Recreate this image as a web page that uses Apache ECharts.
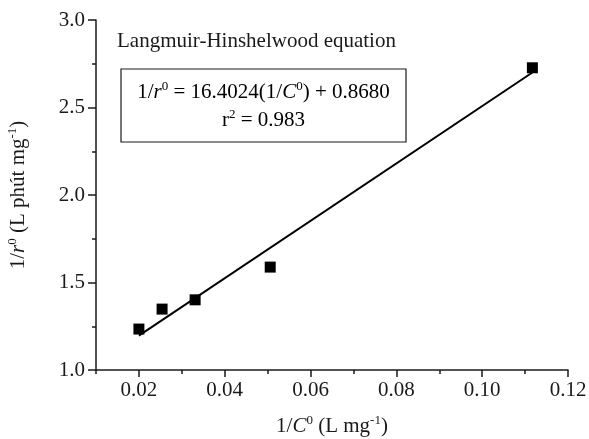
<!DOCTYPE html>
<html>
<head>
<meta charset="utf-8">
<script src="https://cdn.jsdelivr.net/npm/echarts@6/dist/echarts.min.js"></script>
<style>html,body{margin:0;padding:0;background:#fff}#c{width:589px;height:439px}</style>
</head>
<body>
<div id="c"></div>
<script>
// Data
const invC0 = [0.0200, 0.0254, 0.0331, 0.0506, 0.1117];
const invR0 = [1.234, 1.348, 1.401, 1.588, 2.727];
const fitSlope = 16.4024;
const fitIntercept = 0.8680;
const fitRange = [0.0200, 0.1117];
const xMajorTicks = [0.02, 0.04, 0.06, 0.08, 0.10, 0.12];
const xMinorTicks = [0.01, 0.03, 0.05, 0.07, 0.09, 0.11];
const yTicks = [1.0, 1.5, 2.0, 2.5, 3.0];

const FONT = '"Liberation Serif", "DejaVu Serif", serif';
const INK = '#1a1a1a';

const scatterData = invC0.map((x, i) => [x, invR0[i]]);
const fitData = fitRange.map(x => [x, fitSlope * x + fitIntercept]);

const supStyle = { fontFamily: FONT, fontSize: 13, color: INK, verticalAlign: 'top', lineHeight: 13 };
const nStyle = { fontFamily: FONT, fontSize: 21, color: INK, lineHeight: 24 };
const iStyle = { fontFamily: FONT, fontSize: 21, color: INK, fontStyle: 'italic', lineHeight: 24 };
const rich = { n: nStyle, i: iStyle, s: supStyle };

const chart = echarts.init(document.getElementById('c'), null, { renderer: 'canvas' });
chart.setOption({
  animation: false,
  backgroundColor: '#fff',
  grid: { left: 96, right: 21, top: 20, bottom: 69, containLabel: false, outerBoundsMode: 'none' },
  xAxis: [{
    type: 'value', min: 0.01, max: 0.12,
    splitLine: { show: false },
    axisLine: { show: true, onZero: false, lineStyle: { color: INK, width: 1.5 } },
    axisTick: { show: true, inside: false, length: 7, lineStyle: { color: INK, width: 1.5 }, customValues: xMajorTicks },
    axisLabel: { customValues: xMajorTicks, margin: 10, fontFamily: FONT, fontSize: 21, color: INK,
      formatter: v => v.toFixed(2) },
    name: '{n|1/}{i|C}{s|0}{n| (L mg}{s|-1}{n|)}',
    nameLocation: 'middle', nameGap: 44,
    nameTextStyle: { rich: rich }
  }, {
    type: 'value', min: 0.01, max: 0.12, position: 'bottom',
    splitLine: { show: false },
    axisLine: { show: false },
    axisTick: { show: true, length: 4, lineStyle: { color: INK, width: 1.5 }, customValues: xMinorTicks },
    axisLabel: { show: false }
  }],
  yAxis: {
    type: 'value', min: 1.0, max: 3.0, interval: 0.5,
    splitLine: { show: false },
    axisLine: { show: true, onZero: false, lineStyle: { color: INK, width: 1.5 } },
    axisTick: { show: true, length: 8, lineStyle: { color: INK, width: 1.5 } },
    minorTick: { show: true, splitNumber: 2, length: 4, lineStyle: { color: INK, width: 1.5 } },
    axisLabel: { margin: 11, fontFamily: FONT, fontSize: 21, color: INK,
      formatter: v => v.toFixed(1) },
    name: '{n|1/}{i|r}{s|0}{n| (L phút mg}{s|-1}{n|)}',
    nameLocation: 'middle', nameGap: 66, nameRotate: 90,
    nameTextStyle: { rich: rich }
  },
  series: [{
    type: 'line', data: fitData, xAxisIndex: 0, symbol: 'none',
    lineStyle: { color: '#000', width: 2 }, z: 2
  }, {
    type: 'scatter', data: scatterData, xAxisIndex: 0, symbol: 'rect', symbolSize: 11,
    itemStyle: { color: '#000', opacity: 1 }, z: 3
  }],
  graphic: [{
    type: 'text', left: 117, top: 31,
    style: { text: 'Langmuir-Hinshelwood equation', font: '21px ' + FONT, fill: INK }
  }, {
    type: 'rect', shape: { x: 121, y: 69, width: 285, height: 73 },
    style: { fill: 'none', stroke: INK, lineWidth: 1.2 }
  }, {
    type: 'text', x: 263.5, y: 80,
    style: { text: '{n|1/}{i|r}{s|0}{n| = 16.4024(1/}{i|C}{s|0}{n|) + 0.8680}', rich: rich,
      align: 'center', verticalAlign: 'top' }
  }, {
    type: 'text', x: 263.5, y: 108,
    style: { text: '{n|r}{s|2}{n| = 0.983}', rich: rich, align: 'center', verticalAlign: 'top' }
  }]
});
</script>
</body>
</html>
